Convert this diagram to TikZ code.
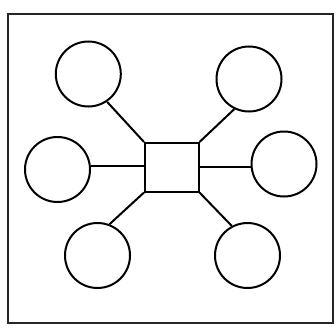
\documentclass[tikz,border=0pt]{standalone}
\begin{document}
\begin{tikzpicture}[x=1pt,y=-1pt,
  ball/.style={draw=black,line width=2pt,circle,minimum size=65pt,inner sep=0pt},
  hub/.style={draw=black,line width=2pt,rectangle,minimum width=53.5pt,minimum height=48.5pt,inner sep=0pt},
  link/.style={draw=black,line width=2pt}]
\useasboundingbox (0,0) rectangle (336,329);
\draw[line width=1.3pt,draw=black!85] (8,14) rectangle (333,323);
\node[hub] (sq) at (171.75,167.25) {};
\node[ball] (tl) at (88.3,74) {};
\node[ball] (tr) at (249,79) {};
\node[ball] (l) at (57.5,169.5) {};
\node[ball] (r) at (284,164) {};
\node[ball] (bl) at (97.5,255.5) {};
\node[ball] (br) at (247.5,255.5) {};
\draw[link] (sq.north west) -- (tl.-56);
\draw[link] (sq.north east) -- (tr.-116);
\draw[link] ([yshift=1.25pt]sq.west) -- ([yshift=1.25pt]sq.west -| l.east);
\draw[link] ([yshift=0.5pt]sq.east) -- ([yshift=0.5pt]sq.east -| r.west);
\draw[link] (sq.south west) -- (bl.69);
\draw[link] (sq.south east) -- (br.118);
\end{tikzpicture}
\end{document}
